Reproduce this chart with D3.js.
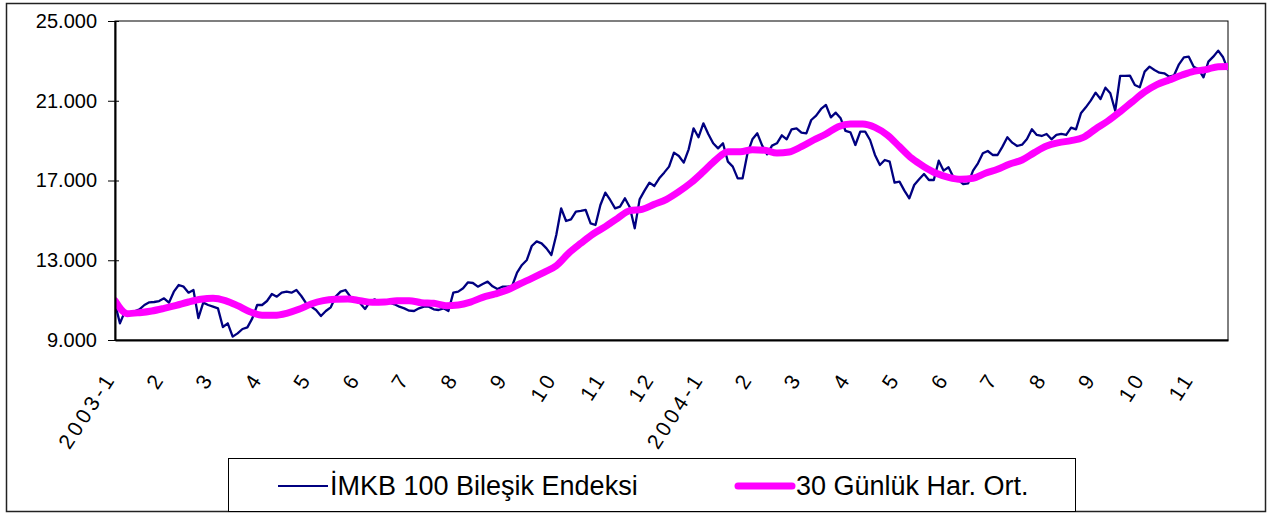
<!DOCTYPE html>
<html>
<head>
<meta charset="utf-8">
<script src="https://cdn.jsdelivr.net/npm/d3@7/dist/d3.min.js"></script>
<style>
  body { margin: 0; background: #fff; }
  svg text { font-family: "Liberation Sans", Arial, sans-serif; fill: #000; }
</style>
</head>
<body>
<div class="chart"></div>
<script>
var width = 1271,
  height = 514;

// months since 2003-1 (0 = Jan 2003), one label per month
var monthTicks = d3.range(0, 23);
var yTicks = [9000, 13000, 17000, 21000, 25000];
var seriesNames = ['İMKB 100 Bileşik Endeksi', '30 Günlük Har. Ort.'];

// IMKB 100 index, read every 0.1 month
var imkbStep = 0.1;
var imkb = [
  10839, 9836, 10421, 10388, 10438, 10538, 10756, 10889, 10906, 10956,
  11090, 10873, 11424, 11759, 11675, 11374, 11508, 10100, 10873, 10756,
  10672, 10588, 9650, 9836, 9167, 9334, 9552, 9635, 10087, 10756,
  10756, 10956, 11307, 11174, 11374, 11424, 11374, 11508, 11207, 10839,
  10672, 10505, 10204, 10455, 10639, 11174, 11424, 11508, 11174, 10973,
  10839, 10555, 10923, 11040, 10839, 10906, 10873, 10789, 10672, 10588,
  10471, 10455, 10588, 10672, 10672, 10538, 10505, 10588, 10455, 11374,
  11424, 11592, 11892, 11859, 11675, 11809, 11926, 11692, 11558, 11675,
  11675, 11709, 12378, 12762, 13013, 13715, 13949, 13849, 13598, 13264,
  14267, 15605, 14969, 15053, 15438, 15471, 15521, 14852, 14769, 15772,
  16390, 16023, 15605, 15688, 16106, 15655, 14601, 16056, 16491, 16892,
  16725, 17109, 17394, 17695, 18397, 18230, 17895, 18564, 19617, 19166,
  19868, 19333, 18865, 18614, 18865, 17945, 17695, 17109, 17109, 18363,
  19066, 19366, 18748, 18313, 18748, 18865, 19266, 19065, 19567, 19617,
  19400, 19366, 20035, 20253, 20587, 20788, 20169, 20403, 20119, 19484,
  19417, 18781, 19450, 19450, 19032, 18280, 17778, 18029, 17945, 16892,
  16942, 16491, 16106, 16775, 17059, 17327, 17026, 17026, 17995, 17494,
  17661, 17159, 17026, 16825, 16858, 17494, 17862, 18363, 18480, 18280,
  18280, 18698, 19166, 18898, 18731, 18798, 19082, 19567, 19283, 19233,
  19333, 19066, 19283, 19333, 19283, 19651, 19567, 20370, 20671, 21005,
  21407, 21089, 21657, 21373, 20500, 22243, 22243, 22259, 21791, 21674,
  22460, 22711, 22544, 22410, 22377, 22209, 22276, 22828, 23179, 23212,
  22711, 22577, 22176, 22962, 23212, 23513, 23179, 22544
];

// 30 day moving average, read every 0.25 month
var maStep = 0.25;
var ortalama = [
  10973, 10321, 10371, 10455, 10588, 10739, 10906, 11040, 11090, 10973,
  10722, 10421, 10237, 10237, 10338, 10538, 10806, 10973, 11040, 11057,
  10973, 10889, 10906, 10973, 10973, 10873, 10839, 10722, 10756, 10900,
  11140, 11308, 11508, 11809, 12094, 12394, 12729, 13348, 13849, 14317,
  14685, 15103, 15488, 15555, 15805, 16056, 16440, 16892, 17444, 18029,
  18447, 18447, 18540, 18514, 18380, 18430, 18698, 19032, 19333, 19701,
  19835, 19835, 19667, 19283, 18698, 18112, 17694, 17360, 17159, 17059,
  17109, 17360, 17561, 17828, 18029, 18400, 18732, 18899, 18999, 19166,
  19584, 19985, 20454, 20955, 21440, 21808, 22042, 22276, 22477, 22560,
  22711, 22720
];

var plot = { left: 115, right: 1228, top: 21, bottom: 340 };

var trLocale = d3.formatLocale({ decimal: ',', thousands: '.', grouping: [3], currency: ['', ''] });
var formatY = trLocale.format(',d');

var xScale = d3.scaleLinear()
  .domain([0, 22.7])
  .range([plot.left, plot.right]);

var yScale = d3.scaleLinear()
  .domain([9000, 25000])
  .range([plot.bottom, plot.top]);

var svg = d3.select('.chart')
  .append('svg')
  .attr('width', width)
  .attr('height', height);

// outer chart frame
svg.append('rect')
  .attr('x', 6.5).attr('y', 3.5)
  .attr('width', 1259).attr('height', 508)
  .attr('fill', '#fff')
  .attr('stroke', '#222')
  .attr('stroke-width', 1.5);

// plot area frame
svg.append('rect')
  .attr('x', plot.left).attr('y', plot.top)
  .attr('width', plot.right - plot.left)
  .attr('height', plot.bottom - plot.top)
  .attr('fill', 'none')
  .attr('stroke', '#000')
  .attr('stroke-width', 1);

svg.append('clipPath').attr('id', 'clip')
  .append('rect')
  .attr('x', plot.left).attr('y', plot.top - 5)
  .attr('width', plot.right - plot.left)
  .attr('height', plot.bottom - plot.top + 10);

var imkbLine = d3.line()
  .x(function (d, i) { return xScale(i * imkbStep); })
  .y(function (d) { return yScale(d); });

var maLine = d3.line()
  .curve(d3.curveMonotoneX)
  .x(function (d, i) { return xScale(i * maStep); })
  .y(function (d) { return yScale(d); });

var lines = svg.append('g').attr('clip-path', 'url(#clip)');

lines.append('path')
  .datum(imkb)
  .attr('d', imkbLine)
  .attr('fill', 'none')
  .attr('stroke', '#000080')
  .attr('stroke-width', 2.3)
  .attr('stroke-linejoin', 'round');

lines.append('path')
  .datum(ortalama)
  .attr('d', maLine)
  .attr('fill', 'none')
  .attr('stroke', '#ff00ff')
  .attr('stroke-width', 7)
  .attr('stroke-linejoin', 'round')
  .attr('stroke-linecap', 'round');

//Y axis with cross ticks
var yAxis = d3.axisLeft(yScale)
  .tickValues(yTicks)
  .tickFormat(formatY)
  .tickSizeInner(7)
  .tickSizeOuter(0)
  .tickPadding(11);

var gy = svg.append('g')
  .attr('class', 'axis y')
  .attr('transform', 'translate(' + plot.left + ',0)')
  .call(yAxis);
gy.select('.domain').attr('stroke', '#000').attr('stroke-width', 2);
gy.selectAll('.tick line').attr('x1', 4).attr('stroke', '#000');
gy.selectAll('.tick text').style('font-size', '20px');

//X axis, month labels only
var xAxis = d3.axisBottom(xScale)
  .tickValues(monthTicks)
  .tickSize(0)
  .tickFormat(function (m) {
    if (m % 12 === 0) return (2003 + m / 12) + '-1';
    return (m % 12) + 1;
  });

var gx = svg.append('g')
  .attr('class', 'axis x')
  .attr('transform', 'translate(0,' + plot.bottom + ')')
  .call(xAxis);
gx.select('.domain').attr('stroke', '#000').attr('stroke-width', 2);
gx.selectAll('.tick text')
  .attr('x', 0).attr('y', 0).attr('dy', '0.35em')
  .attr('text-anchor', 'end')
  .attr('transform', 'translate(-5,34) rotate(-57)')
  .style('font-size', '21px')
  .style('letter-spacing', '3.5px');

// legend
var legend = svg.append('g').attr('class', 'legend');
legend.append('rect')
  .attr('x', 228.5).attr('y', 458.5)
  .attr('width', 847).attr('height', 53)
  .attr('fill', '#fff')
  .attr('stroke', '#000')
  .attr('stroke-width', 1);

legend.append('line')
  .attr('x1', 278).attr('x2', 328)
  .attr('y1', 486).attr('y2', 486)
  .attr('stroke', '#000080').attr('stroke-width', 2);
legend.append('text')
  .attr('x', 330).attr('y', 486).attr('dy', '0.35em')
  .style('font-size', '27px')
  .text(seriesNames[0]);

legend.append('line')
  .attr('x1', 738).attr('x2', 792)
  .attr('y1', 486).attr('y2', 486)
  .attr('stroke', '#ff00ff').attr('stroke-width', 7)
  .attr('stroke-linecap', 'round');
legend.append('text')
  .attr('x', 796).attr('y', 486).attr('dy', '0.35em')
  .style('font-size', '27px')
  .text(seriesNames[1]);
</script>
</body>
</html>
